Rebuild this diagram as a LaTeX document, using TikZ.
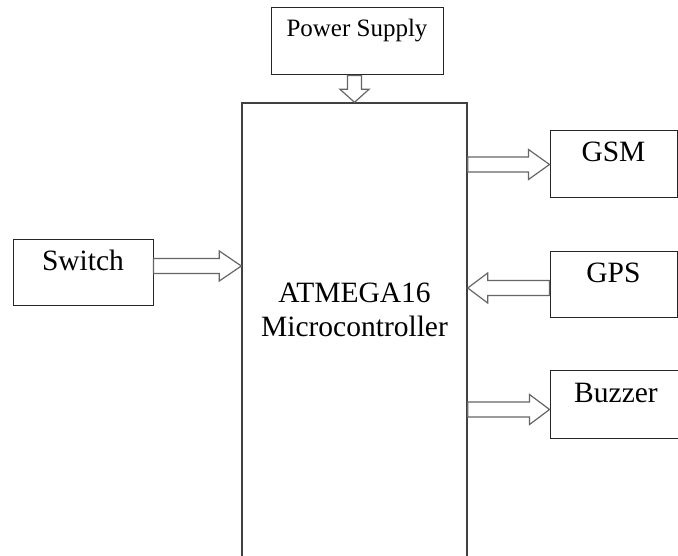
\documentclass[tikz,border=0pt]{standalone}
\usepackage{fontspec}
\setmainfont{Liberation Serif}
\usetikzlibrary{calc}
\tikzset{
  box/.style={draw=black!85, line width=1pt, rectangle, inner sep=0pt, fill=white},
  mainbox/.style={draw=black!75, line width=1.4pt, rectangle, inner sep=0pt, fill=white},
  lbl/.style={anchor=base, inner sep=0pt, font=\fontsize{29.5}{34}\selectfont},
  smalllbl/.style={anchor=base, inner sep=0pt, font=\fontsize{25}{29}\selectfont},
  blockarrow/.style={draw=black!60, line width=1.2pt, fill=white, line join=miter}
}
\newcommand\hblock[3]{%
  \draw[blockarrow] let \p1=(#1), \p2=(#2), \n1={ifthenelse(\x2>\x1,1,-1)} in
   (\x1,{\y1+7.5pt}) -- ({\x2-\n1*#3},{\y1+7.5pt}) -- ({\x2-\n1*#3},{\y1+15pt})
   -- (\x2,\y1) -- ({\x2-\n1*#3},{\y1-15pt}) -- ({\x2-\n1*#3},{\y1-7.5pt})
   -- (\x1,{\y1-7.5pt}) -- cycle;}
\begin{document}
\begin{tikzpicture}[x=1pt,y=1pt]
\useasboundingbox (0,0) rectangle (678,555);
\clip (0,0) rectangle (678,555);
\fill[white] (0,0) rectangle (678,555);
% boxes
\node[box, minimum width=172pt, minimum height=67pt] (power) at (357,513.5) {};
\node[mainbox, minimum width=225pt, minimum height=497pt] (main) at (354.5,203.5) {};
\node[box, minimum width=140pt, minimum height=66pt] (switch) at (83,282) {};
\node[box, minimum width=127pt, minimum height=67pt] (gsm) at (613.5,390.5) {};
\node[box, minimum width=127pt, minimum height=66pt] (gps) at (613.5,270) {};
\node[box, minimum width=130pt, minimum height=67pt] (buzzer) at (615,150.5) {};
% labels
\node[smalllbl] (tpower) at (357,518) {Power Supply};
\node[lbl] (tmain1) at (354.5,252) {ATMEGA16};
\node[lbl] (tmain2) at (354.5,218) {Microcontroller};
\node[lbl] (tswitch) at (83,284) {Switch};
\node[lbl] (tgsm) at (613.5,393) {GSM};
\node[lbl] (tgps) at (613.5,272) {GPS};
\node[lbl] (tbuzzer) at (616,153) {Buzzer};
% arrow rows
\coordinate (yswitch) at (0,289);
\coordinate (ygps) at (0,267);
\coordinate (ybuzzer) at (0,145.5);
% block arrows
\draw[blockarrow] let \p1=(main.north |- power.south), \p2=(main.north) in
  ({\x1-7pt},\y1) -- ({\x1-7pt},{\y2+13pt}) -- ({\x1-14.5pt},{\y2+13pt}) -- (\x1,\y2)
  -- ({\x1+14.5pt},{\y2+13pt}) -- ({\x1+7pt},{\y2+13pt}) -- ({\x1+7pt},\y1) -- cycle;
\hblock{switch.east |- yswitch}{main.west |- yswitch}{22pt}
\hblock{main.east |- gsm.west}{gsm.west}{21pt}
\hblock{gps.west |- ygps}{main.east |- ygps}{20pt}
\hblock{main.east |- ybuzzer}{buzzer.west |- ybuzzer}{20pt}
\end{tikzpicture}
\end{document}
